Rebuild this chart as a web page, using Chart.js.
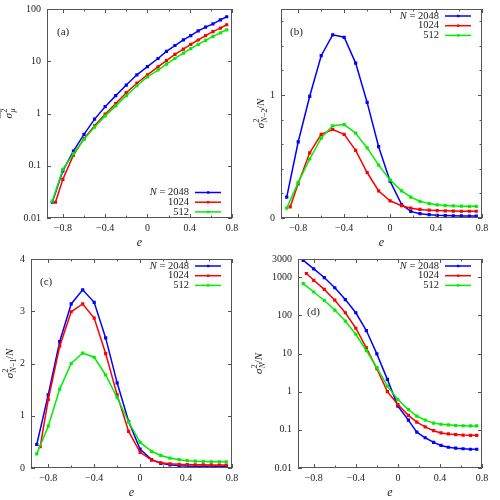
<!DOCTYPE html>
<html>
<head>
<meta charset="utf-8">
<script src="https://cdn.jsdelivr.net/npm/chart.js@4.4.1/dist/chart.umd.min.js"></script>
<style>
body { margin: 0; background: #fff; }
.panel { position: absolute; width: 250px; height: 250px; }
</style>
</head>
<body>
<div class="panel" style="left:0;top:0"><canvas id="pa" width="250" height="250"></canvas></div>
<div class="panel" style="left:250px;top:0"><canvas id="pb" width="250" height="250"></canvas></div>
<div class="panel" style="left:0;top:250px"><canvas id="pc" width="250" height="250"></canvas></div>
<div class="panel" style="left:250px;top:250px"><canvas id="pd" width="250" height="250"></canvas></div>
<script>
// e values for each system size (N = 1024 starts a bit later)
const e2048 = [-0.9, -0.8, -0.7, -0.6, -0.5, -0.4, -0.3, -0.2, -0.1, 0, 0.1, 0.18, 0.26, 0.34, 0.41, 0.48, 0.55, 0.62, 0.69, 0.75];
const e1024 = [-0.87, -0.8, -0.7, -0.6, -0.5, -0.4, -0.3, -0.2, -0.1, 0, 0.1, 0.18, 0.26, 0.34, 0.41, 0.48, 0.55, 0.62, 0.69, 0.75];
const e512 = [-0.9, -0.8, -0.7, -0.6, -0.5, -0.4, -0.3, -0.2, -0.1, 0, 0.1, 0.18, 0.26, 0.34, 0.41, 0.48, 0.55, 0.62, 0.69, 0.75];

// (a) sigma^2_mu
const a2048 = [0.02, 0.08, 0.19, 0.40, 0.78, 1.35, 2.2, 3.5, 5.5, 7.9, 11.3, 15.4, 20, 25.7, 31, 38, 45, 52, 62, 71];
const a1024 = [0.02, 0.055, 0.16, 0.33, 0.58, 0.97, 1.55, 2.5, 3.8, 5.5, 7.8, 10.3, 13.5, 17, 21, 25.5, 31, 37, 43, 50];
const a512 = [0.021, 0.085, 0.17, 0.32, 0.55, 0.9, 1.4, 2.2, 3.4, 5.0, 6.8, 8.8, 11.3, 14.3, 17.5, 21, 25, 30, 35, 40];

// (b) sigma^2_{N-2}/N
const b2048 = [0.17, 0.62, 0.99, 1.32, 1.49, 1.47, 1.26, 0.94, 0.58, 0.30, 0.11, 0.054, 0.035, 0.027, 0.022, 0.02, 0.018, 0.017, 0.016, 0.016];
const b1024 = [0.09, 0.28, 0.53, 0.68, 0.72, 0.68, 0.55, 0.37, 0.22, 0.14, 0.10, 0.08, 0.07, 0.064, 0.06, 0.058, 0.056, 0.055, 0.055, 0.055];
const b512 = [0.08, 0.29, 0.48, 0.65, 0.75, 0.76, 0.69, 0.57, 0.43, 0.31, 0.22, 0.17, 0.136, 0.117, 0.107, 0.101, 0.098, 0.096, 0.095, 0.095];

// (c) sigma^2_{N-1}/N
const c2048 = [0.45, 1.40, 2.42, 3.14, 3.41, 3.17, 2.49, 1.63, 0.89, 0.36, 0.16, 0.09, 0.06, 0.045, 0.04, 0.035, 0.033, 0.032, 0.031, 0.03];
const c1024 = [0.41, 1.31, 2.33, 2.99, 3.14, 2.87, 2.19, 1.40, 0.70, 0.30, 0.15, 0.10, 0.08, 0.07, 0.065, 0.062, 0.06, 0.058, 0.057, 0.057];
const c512 = [0.27, 0.8, 1.51, 2.0, 2.2, 2.12, 1.78, 1.35, 0.88, 0.49, 0.32, 0.24, 0.19, 0.16, 0.14, 0.13, 0.125, 0.12, 0.12, 0.12];

// (d) sigma^2_N/N
const d2048 = [2750, 1650, 980, 530, 260, 117, 40, 9.8, 2.1, 0.42, 0.18, 0.087, 0.062, 0.047, 0.039, 0.035, 0.033, 0.032, 0.031, 0.031];
const d1024 = [1250, 830, 480, 250, 117, 46, 14, 4.0, 1.0, 0.46, 0.24, 0.16, 0.12, 0.095, 0.083, 0.078, 0.075, 0.073, 0.072, 0.072];
const d512 = [680, 410, 245, 138, 71, 32, 12, 4.3, 1.4, 0.62, 0.34, 0.23, 0.18, 0.15, 0.14, 0.135, 0.13, 0.128, 0.127, 0.127];

const seriesNames = ['N = 2048', '1024', '512'];
const seriesColors = ['#0000ff', '#ff0000', '#00ee00'];

const xTicks = [-0.8, -0.6, -0.4, -0.2, 0, 0.2, 0.4, 0.6, 0.8];
const aTicks = [0.01, 0.1, 1, 10, 100];
const bTicks = [0, 0.2, 0.4, 0.6, 0.8, 1, 1.2, 1.4, 1.6];
const cTicks = [0, 1, 2, 3, 4];
const dTicks = [0.01, 0.1, 1, 10, 100, 1000, 3000];

const serif = "'Liberation Serif', 'Times New Roman', serif";
const ink = '#222';

function fmtX(v) {
  if (Math.round(v * 10) % 4 !== 0) return '';
  if (Math.abs(v) < 1e-9) return '0';
  return (v < 0 ? '\u2212' : '') + Math.abs(v).toFixed(1);
}

function drawYTitle(ctx, parts, cx, cy, overline) {
  const size = 11, small = 8;
  const fontFor = p => (p.it ? 'italic ' : '') + (p.pos ? small : size) + 'px ' + serif;
  const placed = [];
  let x = 0, groupEnd = 0;
  parts.forEach(p => {
    ctx.font = fontFor(p);
    const w = ctx.measureText(p.t).width;
    if (p.pos === 'sup') {
      placed.push({ p, x: x + 0.5, dy: -4.5 });
      groupEnd = x + 0.5 + w;
    } else if (p.pos === 'sub') {
      placed.push({ p, x: x + 0.5, dy: 3 });
      x += w;
    } else {
      x = Math.max(x, groupEnd);
      placed.push({ p, x, dy: 0 });
      x += w;
      groupEnd = 0;
    }
  });
  const total = Math.max(x, groupEnd);
  ctx.save();
  ctx.translate(cx, cy);
  ctx.rotate(-Math.PI / 2);
  ctx.fillStyle = ink;
  ctx.textAlign = 'left';
  ctx.textBaseline = 'alphabetic';
  const base = size * 0.32;
  placed.forEach(q => {
    ctx.font = fontFor(q.p);
    ctx.fillText(q.p.t, q.x - total / 2, base + q.dy);
  });
  if (overline) {
    ctx.strokeStyle = ink;
    ctx.lineWidth = 0.8;
    ctx.beginPath();
    ctx.moveTo(-total / 2, base - size * 1.05);
    ctx.lineTo(total / 2, base - size * 1.05);
    ctx.stroke();
  }
  ctx.restore();
}

const framePlugin = {
  id: 'frame',
  afterDraw(chart, args, o) {
    const ctx = chart.ctx, a = chart.chartArea;
    const xs = chart.scales.x, ys = chart.scales.y;
    ctx.save();
    ctx.strokeStyle = '#555';
    ctx.lineWidth = 1;
    ctx.beginPath();
    xs.ticks.forEach(t => {
      const px = Math.round(xs.getPixelForValue(t.value)) + 0.5;
      const len = t.label ? 4 : 2.5;
      ctx.moveTo(px, a.bottom); ctx.lineTo(px, a.bottom - len);
      ctx.moveTo(px, a.top); ctx.lineTo(px, a.top + len);
    });
    ys.ticks.forEach(t => {
      const py = Math.round(ys.getPixelForValue(t.value)) + 0.5;
      const len = t.label ? 4 : 2.5;
      ctx.moveTo(a.left, py); ctx.lineTo(a.left + len, py);
      ctx.moveTo(a.right, py); ctx.lineTo(a.right - len, py);
    });
    ctx.stroke();
    ctx.strokeRect(a.left + 0.5, a.top + 0.5, a.right - a.left - 1, a.bottom - a.top - 1);

    // legend
    ctx.textBaseline = 'middle';
    ctx.textAlign = 'left';
    chart.data.datasets.forEach((ds, i) => {
      const y = o.legendY + i * 9.7;
      const lx = o.legendX;
      ctx.fillStyle = ink;
      if (ds.label.startsWith('N ')) {
        const rest = ds.label.slice(1);
        ctx.font = '10.5px ' + serif;
        const wr = ctx.measureText(rest).width;
        ctx.fillText(rest, lx - wr, y);
        ctx.font = 'italic 10.5px ' + serif;
        const wn = ctx.measureText('N').width;
        ctx.fillText('N', lx - wr - wn, y);
      } else {
        ctx.font = '10.5px ' + serif;
        const w = ctx.measureText(ds.label).width;
        ctx.fillText(ds.label, lx - w, y);
      }
      ctx.strokeStyle = ds.borderColor;
      ctx.lineWidth = 1.5;
      ctx.beginPath();
      ctx.moveTo(lx + 6, y);
      ctx.lineTo(lx + 32, y);
      ctx.stroke();
      ctx.fillStyle = ds.borderColor;
      ctx.fillRect(lx + 18, y - 1.2, 2.4, 2.4);
    });

    // panel tag
    ctx.fillStyle = ink;
    ctx.font = '11px ' + serif;
    ctx.fillText(o.tag, o.tagX, o.tagY);
    ctx.restore();

    drawYTitle(ctx, o.title, o.titleX, (a.top + a.bottom) / 2, o.overline);
  }
};

function makeSeries(xsArr, ysArr) {
  return xsArr.map((xs, i) => ({
    label: seriesNames[i],
    data: xs.map((x, k) => ({ x, y: ysArr[i][k] })),
    borderColor: seriesColors[i],
    backgroundColor: seriesColors[i],
    borderWidth: 1.5,
    pointRadius: 1.2,
    pointStyle: 'rect',
    order: 2 - i,
    tension: 0
  }));
}

function makePanel(id, cfg) {
  new Chart(document.getElementById(id), {
    type: 'line',
    data: { datasets: makeSeries([e2048, e1024, e512], cfg.values) },
    options: {
      responsive: false,
      animation: false,
      devicePixelRatio: 1,
      events: [],
      layout: { padding: { left: 0, right: 18, top: 9, bottom: 0 } },
      plugins: {
        legend: { display: false },
        tooltip: { enabled: false },
        frame: cfg.frame
      },
      scales: {
        x: {
          type: 'linear',
          min: -0.95,
          max: 0.8,
          grid: { display: false, drawTicks: false },
          border: { display: false },
          afterBuildTicks: s => { s.ticks = xTicks.map(v => ({ value: v })); },
          afterFit: s => { s.height = 32; s.paddingLeft = 0; s.paddingRight = 0; },
          ticks: { padding: 4, color: ink, font: { family: serif, size: 10 }, autoSkip: false, maxRotation: 0, callback: v => fmtX(v) },
          title: { display: true, text: 'e', color: ink, font: { family: serif, size: 12, style: 'italic' }, padding: { top: 0, bottom: 0 } }
        },
        y: {
          type: cfg.log ? 'logarithmic' : 'linear',
          min: cfg.min,
          max: cfg.max,
          grid: { display: false, drawTicks: false },
          border: { display: false },
          afterBuildTicks: s => { s.ticks = cfg.ticks.map(v => ({ value: v })); },
          afterFit: s => { s.width = cfg.left; s.paddingTop = 0; s.paddingBottom = 0; },
          ticks: { padding: 6, color: ink, font: { family: serif, size: 10 }, autoSkip: false, callback: cfg.label }
        }
      }
    },
    plugins: [framePlugin]
  });
}

makePanel('pa', {
  values: [a2048, a1024, a512], log: true, min: 0.01, max: 100, ticks: aTicks, left: 47,
  label: v => String(v),
  frame: { tag: '(a)', tagX: 57, tagY: 32, legendX: 189, legendY: 192.5, titleX: 8, overline: true,
    title: [{ t: 'σ', it: true }, { t: '2', pos: 'sup' }, { t: 'μ', it: true, pos: 'sub' }] }
});
makePanel('pb', {
  values: [b2048, b1024, b512], log: false, min: 0, max: 1.7, ticks: bTicks, left: 31,
  label: v => Number.isInteger(v) ? String(v) : '',
  frame: { tag: '(b)', tagX: 40, tagY: 32, legendX: 189, legendY: 16, titleX: 10,
    title: [{ t: 'σ', it: true }, { t: '2', pos: 'sup' }, { t: 'N', it: true, pos: 'sub' }, { t: '\u22122', pos: 'sub' }, { t: '/' }, { t: 'N', it: true }] }
});
makePanel('pc', {
  values: [c2048, c1024, c512], log: false, min: 0, max: 4, ticks: cTicks, left: 31,
  label: v => String(v),
  frame: { tag: '(c)', tagX: 40, tagY: 32, legendX: 189, legendY: 16, titleX: 9,
    title: [{ t: 'σ', it: true }, { t: '2', pos: 'sup' }, { t: 'N', it: true, pos: 'sub' }, { t: '\u22121', pos: 'sub' }, { t: '/' }, { t: 'N', it: true }] }
});
makePanel('pd', {
  values: [d2048, d1024, d512], log: true, min: 0.01, max: 3000, ticks: dTicks, left: 48,
  label: v => String(v),
  frame: { tag: '(d)', tagX: 57, tagY: 62, legendX: 189, legendY: 16, titleX: 8,
    title: [{ t: 'σ', it: true }, { t: '2', pos: 'sup' }, { t: 'N', it: true, pos: 'sub' }, { t: '/' }, { t: 'N', it: true }] }
});
</script>
</body>
</html>
